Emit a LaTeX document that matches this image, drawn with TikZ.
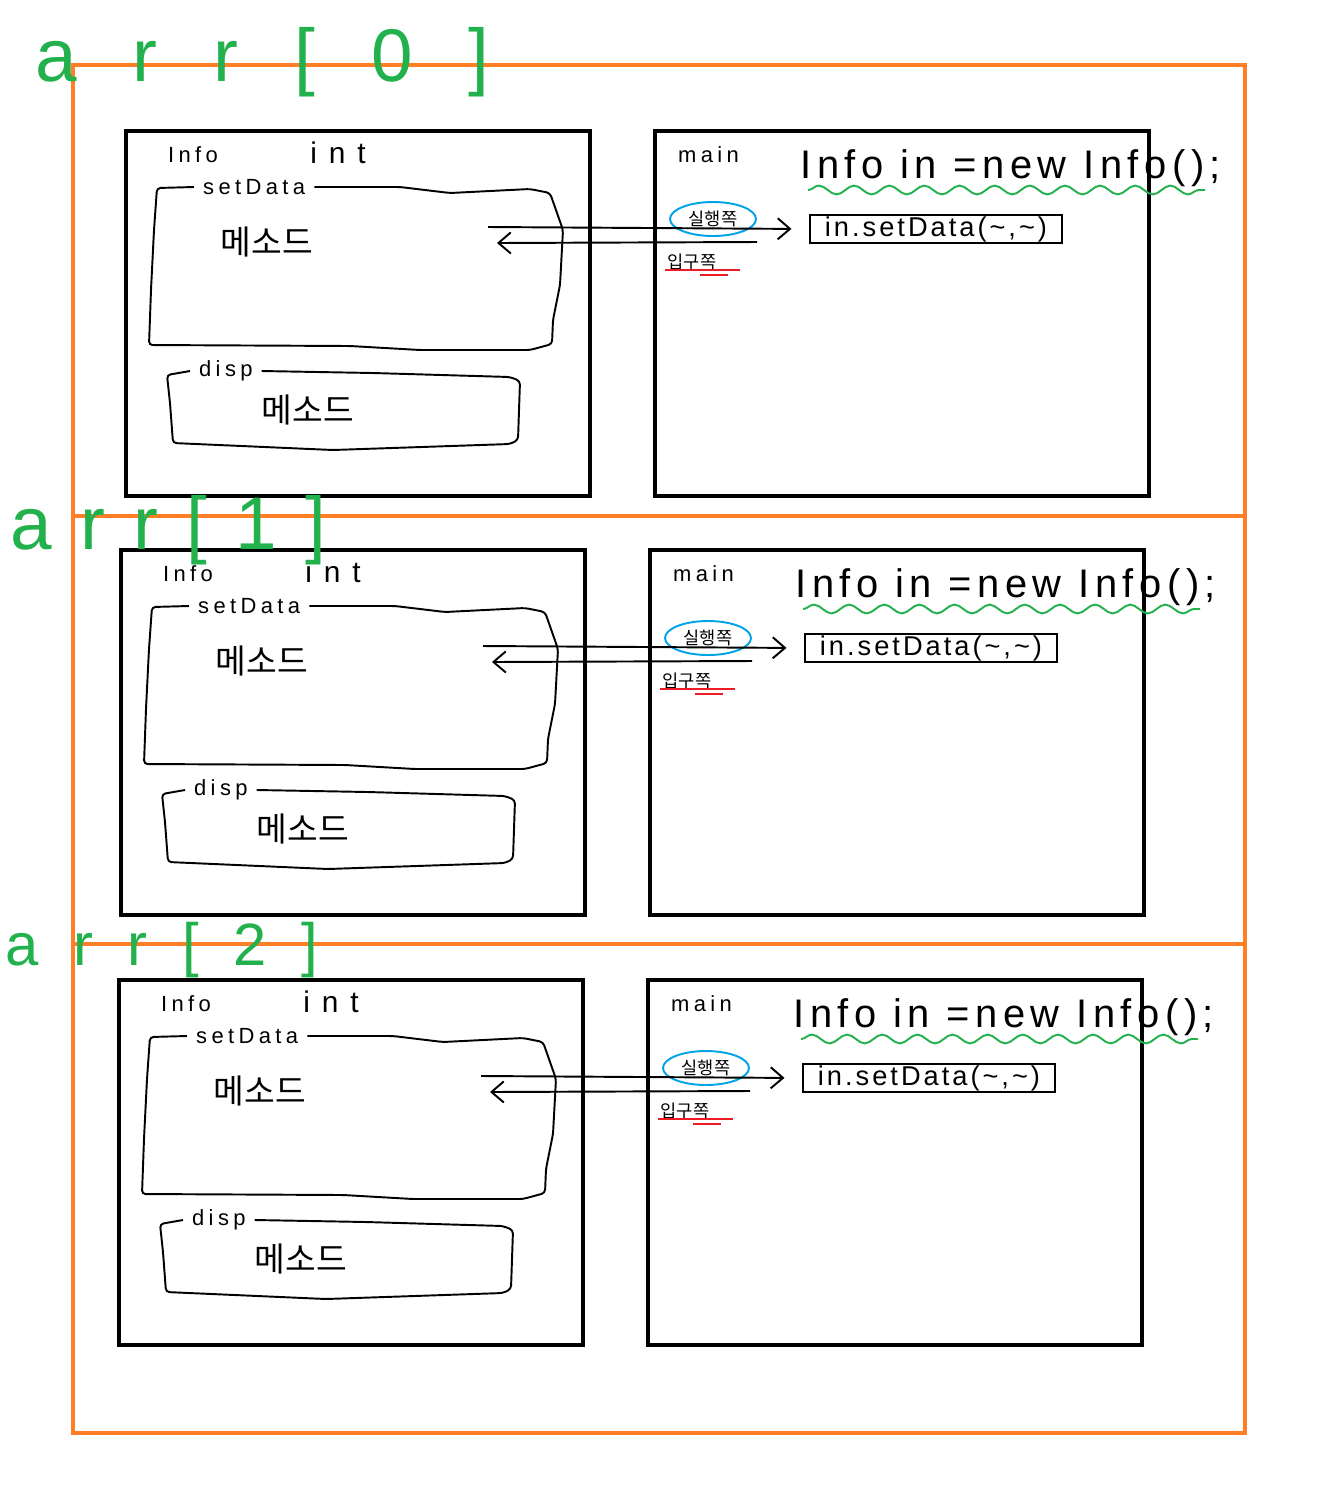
\documentclass[tikz,border=0pt]{standalone}
\usepackage{fontspec}
\setmainfont{Liberation Sans}
\newfontfamily\paintfont[LetterSpace=20]{Liberation Sans}
\newfontfamily\kofont{Noto Sans CJK KR}
\usetikzlibrary{arrows.meta,decorations.pathmorphing}
\definecolor{paintorange}{RGB}{255,127,39}
\definecolor{paintgreen}{RGB}{34,177,76}
\definecolor{paintblue}{RGB}{0,162,232}
\definecolor{paintred}{RGB}{237,28,36}
\tikzset{
  frameline/.style={draw=paintorange, line width=2.2pt},
  objbox/.style={draw=black, line width=2.3pt},
  sketch/.style={draw=black, line width=1.1pt, rounded corners=2pt},
  tag/.style={inner sep=1pt, anchor=west, font=\paintfont\fontsize{12.5}{14}\selectfont},
  gaptag/.style={tag, inner xsep=5pt},
  hand/.style={inner sep=0pt, anchor=west, font=\fontsize{17}{20}\selectfont\addfontfeature{LetterSpace=40}},
  kor/.style={inner sep=0pt, font=\kofont\fontsize{19}{22}\selectfont},
  note/.style={inner sep=0pt, font=\kofont\fontsize{10}{12}\selectfont},
  callbox/.style={draw=black, line width=1.1pt, inner sep=1pt, minimum width=5.04cm, minimum height=0.54cm,
    font=\fontsize{15.5}{17}\selectfont\addfontfeature{LetterSpace=11}},
  arrlabel/.style={inner sep=0pt, anchor=west, text=paintgreen},
  wave/.style={draw=paintgreen, line width=1.1pt, decorate, decoration={snake, segment length=20pt, amplitude=2.5pt}},
  barb/.style={-{Straight Barb[length=7pt,width=12pt]}},
}

\begin{document}
\begin{tikzpicture}[x=0.02cm,y=-0.02cm]
\useasboundingbox (0,0) rectangle (1340,1492);

\draw[frameline] (73,65) rectangle (1245,1433);
\draw[frameline] (73,516) -- (1245,516);
\draw[frameline] (73,944) -- (1245,944);

\foreach \i/\dx/\dy in {0/0/0,1/-5/419,2/-7/849}{
  \begin{scope}[shift={(\dx,\dy)}]
    % Info object
    \draw[objbox] (126,131) rectangle (590,496);
    \node[tag] (cls\i) at (166,155) {Info};
    \node[hand] (fld\i) at (310,153) {int};
    \node[gaptag] (setlbl\i) at (194,187) {setData};
    \draw[sketch] (setlbl\i.east) -- (400,187) -- (450,193) -- (530,189) -- (550,193) -- (563,230)
      -- (560,285) -- (553,320) -- (552,344) -- (530,350) -- (420,350) -- (350,346) -- (149,345)
      -- (151,290) -- (154,230) -- (157,188) -- (setlbl\i.west);
    \node[kor] (setbody\i) at (267,242) {메소드};
    \node[gaptag] (displbl\i) at (190,371) {disp};
    \draw[sketch] (displbl\i.east) -- (373,373) -- (510,377) -- (520,381) -- (518,440) -- (510,444)
      -- (333,450) -- (173,443) -- (170,403) -- (167,375) -- (displbl\i.west);
    \node[kor] (dispbody\i) at (308,410) {메소드};

    % main
    \draw[objbox] (655,131) rectangle (1149,496);
    \node[tag] (main\i) at (676,155) {main};
    \node[hand, font=\fontsize{22.7}{26}\selectfont\addfontfeature{LetterSpace=14}] (decl\i) at (800,168) {Info in =new Info();};
    \draw[wave] (808,190) -- (1205,190);
    \node[callbox] (call\i) at (936,229) {in.setData(\textasciitilde,\textasciitilde)};
    \node[note] (run\i) at (713,219) {실행쪽};
    \draw[paintblue, line width=1.1pt] (run\i) ellipse [x radius=43, y radius=17];
    \node[note] (entry\i) at (692,262) {입구쪽};
    \draw[paintred, line width=1.1pt] (665,270) -- (740,270);
    \draw[paintred, line width=1.1pt] (700,275) -- (728,275);

    \coordinate (callfrom\i) at (488,227);
    \coordinate (retfrom\i) at (757,242);
    \coordinate (retto\i) at (497,243);
    \draw[sketch, barb, shorten >=10pt] (callfrom\i) -- (call\i.west);
    \draw[sketch, barb] (retfrom\i) -- (retto\i);
  \end{scope}
}

\node[arrlabel, font=\fontsize{42.5}{45}\selectfont\addfontfeature{LetterSpace=75}] (arr0) at (35,62) {arr[0]};
\node[arrlabel, font=\fontsize{42.5}{45}\selectfont\addfontfeature{LetterSpace=38}] (arr1) at (10,530) {arr[1]};
\node[arrlabel, font=\fontsize{34}{36}\selectfont\addfontfeature{LetterSpace=58}] (arr2) at (5,950) {arr[2]};
\end{tikzpicture}
\end{document}
